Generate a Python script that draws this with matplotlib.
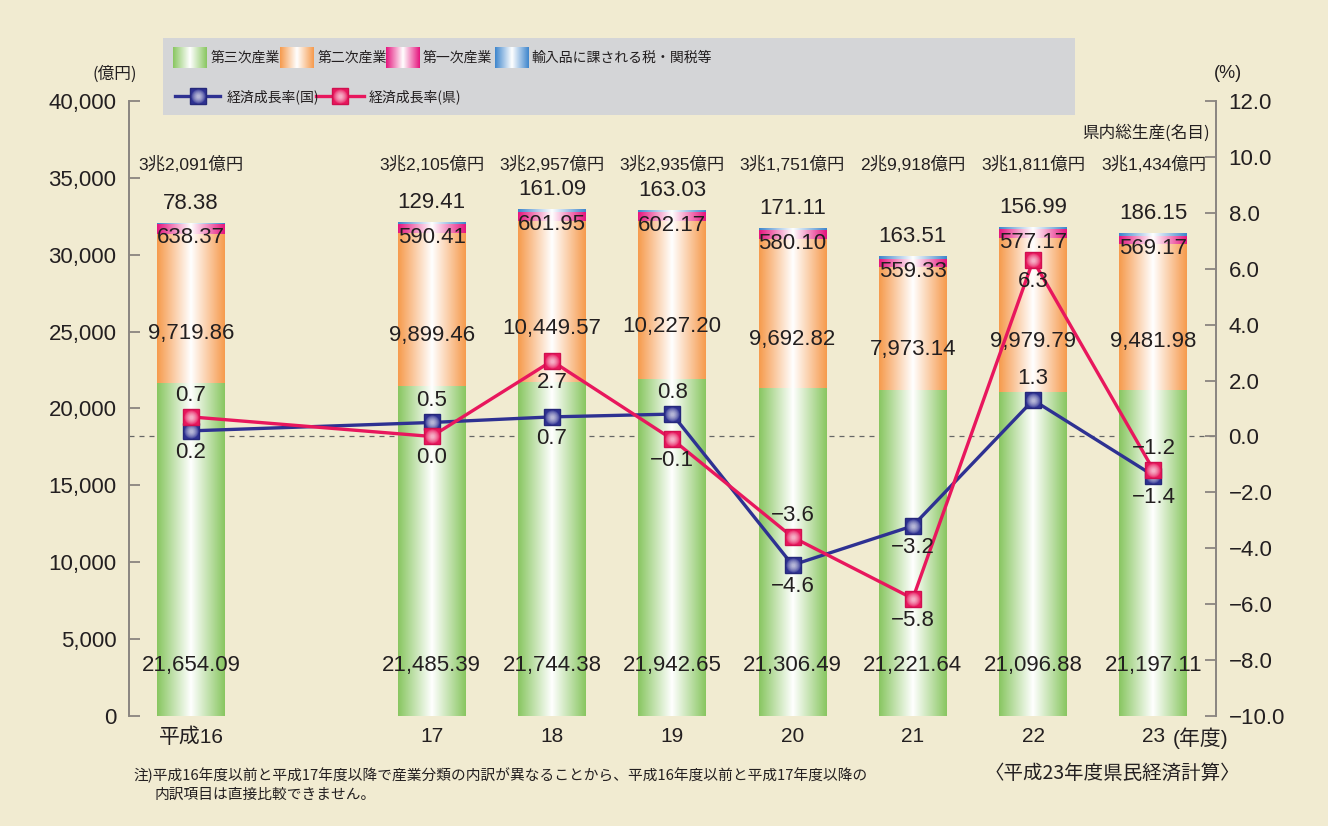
import numpy as np
import matplotlib
matplotlib.use("Agg")
import matplotlib.pyplot as plt
import matplotlib.transforms as mtransforms
from matplotlib.colors import LinearSegmentedColormap
from matplotlib.ticker import FuncFormatter

# ---------------- data ----------------
years = ['平成16', '17', '18', '19', '20', '21', '22', '23']
tertiary = [21654.09, 21485.39, 21744.38, 21942.65, 21306.49, 21221.64, 21096.88, 21197.11]
secondary = [9719.86, 9899.46, 10449.57, 10227.20, 9692.82, 7973.14, 9979.79, 9481.98]
primary = [638.37, 590.41, 601.95, 602.17, 580.10, 559.33, 577.17, 569.17]
import_tax = [78.38, 129.41, 161.09, 163.03, 171.11, 163.51, 156.99, 186.15]
totals = ['3兆2,091億円', '3兆2,105億円', '3兆2,957億円', '3兆2,935億円',
          '3兆1,751億円', '2兆9,918億円', '3兆1,811億円', '3兆1,434億円']
growth_nation = [0.2, 0.5, 0.7, 0.8, -4.6, -3.2, 1.3, -1.4]
growth_pref = [0.7, 0.0, 2.7, -0.1, -3.6, -5.8, 6.3, -1.2]

series_names = ['第三次産業', '第二次産業', '第一次産業', '輸入品に課される税・関税等']
line_names = ['経済成長率(国)', '経済成長率(県)']

# ---------------- style / layout ----------------
positions = [0, 2, 3, 4, 5, 6, 7, 8]
nation_side = [-1, 1, -1, 1, -1, -1, 1, -1]
pref_side = [1, -1, -1, -1, 1, -1, -1, 1]

BG = '#f1ebd1'
LEG_BG = '#d4d5d7'
GREEN = '#88c660'
ORANGE = '#f69a4c'
PINK = '#e5147d'
BLUE = '#3d85cc'
NAVY = '#2e3192'
RED = '#e8175d'
TXT = '#231f20'
AXC = '#8a8580'

NUM = ['Liberation Sans', 'Noto Sans CJK JP']
JP = ['Noto Sans CJK JP', 'DejaVu Sans']
plt.rcParams['font.family'] = NUM
plt.rcParams['axes.unicode_minus'] = True


def fmt_signed(v):
    return f'{v:.1f}'.replace('-', '\u2212')


def grad_cmap(c):
    return LinearSegmentedColormap.from_list('g', [c, 'white', c])


GRAD = np.linspace(0, 1, 256).reshape(1, -1)


def grad_fill(ax, patch, color, zorder):
    x0, y0 = patch.get_x(), patch.get_y()
    w, h = patch.get_width(), patch.get_height()
    im = ax.imshow(GRAD, cmap=grad_cmap(color), extent=[x0, x0 + w, y0, y0 + h],
                   aspect='auto', zorder=zorder, interpolation='bilinear')
    im.set_clip_path(patch)


def glow_markers(a, xs, ys, z):
    # fake radial highlight in the square markers
    for ms in (10, 8.5, 7, 5.5, 4, 2.5):
        a.plot(xs, ys, ls='none', marker='o', ms=ms, mfc='white', mec='none',
               alpha=0.16, zorder=z)


fig = plt.figure(figsize=(13.28, 8.26), dpi=100)
fig.patch.set_facecolor(BG)

L, R, B, T = 129, 1216, 716, 101
ax = fig.add_axes([L / 1328, (826 - B) / 826, (R - L) / 1328, (B - T) / 826])
ax.set_facecolor('none')
ax2 = ax.twinx()

bar_w = 0.565
stacks = [tertiary, secondary, primary, import_tax]
colors = [GREEN, ORANGE, PINK, BLUE]
bottom = np.zeros(len(years))
for vals, col in zip(stacks, colors):
    bars = ax.bar(positions, vals, bottom=bottom, width=bar_w, color='none',
                  edgecolor='none', zorder=2)
    for p in bars.patches:
        grad_fill(ax, p, col, 2)
    bottom = bottom + np.array(vals)

ax.set_xlim(-0.515, 8.52)
ax.set_ylim(0, 40000)
ax.set_yticks(np.arange(0, 40001, 5000))
ax.yaxis.set_major_formatter(FuncFormatter(lambda v, p: f'{int(v):,}'))
ax.set_xticks(positions)
ax.set_xticklabels(years)

ax2.set_ylim(-10, 12)
ax2.set_yticks(np.arange(-10, 12.01, 2))
ax2.yaxis.set_major_formatter(FuncFormatter(lambda v, p: fmt_signed(v)))

for a in (ax, ax2):
    for s in ('top', 'bottom'):
        a.spines[s].set_visible(False)
ax.spines['right'].set_visible(False)
ax2.spines['left'].set_visible(False)
ax.spines['left'].set_color(AXC)
ax.spines['left'].set_linewidth(1.4)
ax2.spines['right'].set_color(AXC)
ax2.spines['right'].set_linewidth(1.4)

ax.tick_params(axis='y', direction='in', length=8, width=1.3, color=AXC,
               labelsize=16, pad=9, labelcolor=TXT)
ax2.tick_params(axis='y', direction='in', length=8, width=1.3, color=AXC,
                labelsize=16, pad=9, labelcolor=TXT)
ax.tick_params(axis='x', length=0, labelsize=15, pad=8, labelcolor=TXT)

# zero line of right axis, behind bars
zero_tr = mtransforms.blended_transform_factory(ax.transAxes, ax2.transData)
ax.plot([0, 1], [0, 0], transform=zero_tr, color='#666666', lw=0.9,
        ls=(0, (4, 4)), zorder=1)

# bar labels
for i, x in enumerate(positions):
    t, s, p, m = tertiary[i], secondary[i], primary[i], import_tax[i]
    ax.text(x, 3300, f'{t:,.2f}', ha='center', va='center', fontsize=16,
            color=TXT, zorder=6)
    ax.text(x, t + 0.33 * s, f'{s:,.2f}', ha='center', va='center', fontsize=16,
            color=TXT, zorder=6)
    ax.annotate(f'{p:,.2f}', xy=(x, t + s + p), xytext=(0, -9.5),
                textcoords='offset points', ha='center', va='center',
                fontsize=16, color=TXT, zorder=6)
    ax.annotate(f'{m:,.2f}', xy=(x, t + s + p + m), xytext=(0, 14),
                textcoords='offset points', ha='center', va='center',
                fontsize=16, color=TXT, zorder=6)
    ax.text(x, 35850, totals[i], ha='center', va='center', fontsize=12.5,
            color=TXT, zorder=6)

ax.text(0.9945, 0.948, '県内総生産(名目)', transform=ax.transAxes, ha='right',
        va='center', fontsize=12, color=TXT, family=JP)

# growth lines
def draw_line(a, xs, ys, col, edge, z):
    a.plot(xs, ys, color=col, lw=2.4, marker='s', ms=12, mfc=col, mec=edge,
           mew=1.0, zorder=z)
    glow_markers(a, xs, ys, z + 0.1)


draw_line(ax2, positions, growth_nation, NAVY, '#25287a', 3)
draw_line(ax2, positions, growth_pref, RED, '#d0104f', 4)

for x, v, sd in zip(positions, growth_nation, nation_side):
    ax2.annotate(fmt_signed(v), xy=(x, v), xytext=(0, 15.5 * sd),
                 textcoords='offset points', ha='center', va='center',
                 fontsize=16, color=TXT, zorder=7)
for x, v, sd in zip(positions, growth_pref, pref_side):
    ax2.annotate(fmt_signed(v), xy=(x, v), xytext=(0, 15.5 * sd),
                 textcoords='offset points', ha='center', va='center',
                 fontsize=16, color=TXT, zorder=7)

# "(年度)" next to last tick label
ax.annotate('(年度)', xy=(positions[-1], 0), xycoords=ax.get_xaxis_transform(),
            xytext=(14, -8), textcoords='offset points', ha='left', va='top',
            fontsize=15, color=TXT, family=NUM)

# unit labels
fig.text(115 / 1328, 1 - 74 / 826, '(億円)', ha='center', va='center',
         fontsize=12, color=TXT, family=JP)
fig.text(1228 / 1328, 1 - 74 / 826, '(%)', ha='center', va='center',
         fontsize=13, color=TXT, family=NUM)

# notes
fig.text(133 / 1328, 1 - 775 / 826,
         '注)平成16年度以前と平成17年度以降で産業分類の内訳が異なることから、平成16年度以前と平成17年度以降の',
         ha='left', va='center', fontsize=10.6, color=TXT, family=JP)
fig.text(155 / 1328, 1 - 795 / 826, '内訳項目は直接比較できません。',
         ha='left', va='center', fontsize=10.6, color=TXT, family=JP)
fig.text(1112 / 1328, 1 - 773 / 826, '〈平成23年度県民経済計算〉',
         ha='center', va='center', fontsize=14, color=TXT, family=JP)

# ---------------- legend box ----------------
lx0, ly0, lx1, ly1 = 163, 38, 1075, 115
lax = fig.add_axes([lx0 / 1328, (826 - ly1) / 826, (lx1 - lx0) / 1328, (ly1 - ly0) / 826])
lax.set_zorder(10)
lax.set_facecolor(LEG_BG)
lax.set_xlim(0, lx1 - lx0)
lax.set_ylim(ly1 - ly0, 0)
lax.set_xticks([])
lax.set_yticks([])
for s in lax.spines.values():
    s.set_visible(False)

sw_x = [10, 117, 223, 332]
tx_x = [48, 155, 260, 369]
for sx, tx, col, name in zip(sw_x, tx_x, colors, series_names):
    lax.imshow(GRAD, cmap=grad_cmap(col), extent=[sx, sx + 34, 30, 9],
               aspect='auto', interpolation='bilinear')
    lax.text(tx, 19.5, name, ha='left', va='center', fontsize=10, color=TXT,
             family=JP)

ln_x = [(12, 57), (153, 201)]
ln_tx = [64, 206]
for (a0, a1), tx, col, edge, name in zip(ln_x, ln_tx, [NAVY, RED],
                                         ['#25287a', '#d0104f'], line_names):
    lax.plot([a0, a1], [58, 58], color=col, lw=2.4)
    mid = (a0 + a1) / 2
    lax.plot([mid], [58], marker='s', ms=12, mfc=col, mec=edge, mew=1.0)
    glow_markers(lax, [mid], [58], 3)
    lax.text(tx, 58.5, name, ha='left', va='center', fontsize=10, color=TXT,
             family=JP)
lax.set_xlim(0, lx1 - lx0)
lax.set_ylim(ly1 - ly0, 0)

fig.savefig('out.png', dpi=100, facecolor=BG)
